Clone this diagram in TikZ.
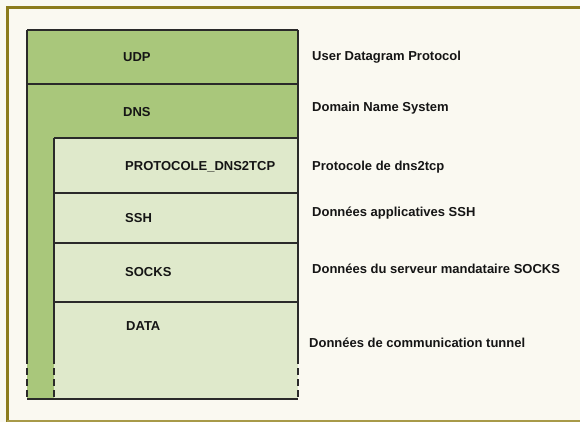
\documentclass[tikz,border=0pt]{standalone}
\usepackage{fontspec}
\setmainfont{Liberation Sans}
\definecolor{paper}{HTML}{FAF9F1}
\definecolor{olive}{HTML}{8C7C1C}
\definecolor{oliveL}{HTML}{A89A48}
\definecolor{darkgreen}{HTML}{A9C77B}
\definecolor{lightgreen}{HTML}{DFE9CB}
\definecolor{ink}{HTML}{2A2A2A}
\definecolor{txt}{HTML}{151515}
\tikzset{
  boxline/.style={draw=ink, line width=1.1pt},
  dashline/.style={draw=ink, line width=1.4pt, dash pattern=on 7pt off 4pt},
  layer/.style={anchor=west, inner sep=0pt, font=\fontsize{13}{15}\selectfont\bfseries, text=txt},
  desc/.style={anchor=west, inner sep=0pt, font=\fontsize{13}{15}\selectfont\bfseries, text=txt}
}
\begin{document}
\begin{tikzpicture}[x=1pt,y=-1pt]
\useasboundingbox (0,0) rectangle (580,422);
% paper
\fill[paper] (0,0) rectangle (580,422);
% frame
\draw[olive, line width=3pt] (7,8) -- (580,8);
\draw[olive, line width=3.5pt] (7.5,6.5) -- (7.5,422);
\draw[oliveL, line width=1.5pt] (7,421) -- (580,421);
% fills
\fill[darkgreen] (27,30) rectangle (298,399);
\fill[lightgreen] (54,138) rectangle (298,399);
% coordinates
\coordinate (oTL) at (27,30);
\coordinate (oTR) at (298,30);
\coordinate (oL1) at (27,84);
\coordinate (oR1) at (298,84);
\coordinate (oLd) at (27,357);
\coordinate (oRd) at (298,357);
\coordinate (oBL) at (27,399);
\coordinate (oBR) at (298,399);
\coordinate (iTL) at (54,138);
\coordinate (iTR) at (298,138);
\coordinate (iL2) at (54,193);
\coordinate (iR2) at (298,193);
\coordinate (iL3) at (54,243);
\coordinate (iR3) at (298,243);
\coordinate (iL4) at (54,302);
\coordinate (iR4) at (298,302);
\coordinate (iLd) at (54,357);
\coordinate (iBL) at (54,399);
% solid lines
\draw[boxline] (oTL) -- (oTR);
\draw[boxline] (oTL) -- (oLd);
\draw[boxline] (oTR) -- (oRd);
\draw[boxline] (oL1) -- (oR1);
\draw[boxline] (iTL) -- (iTR);
\draw[boxline] (iTL) -- (iLd);
\draw[boxline] (iL2) -- (iR2);
\draw[boxline] (iL3) -- (iR3);
\draw[boxline] (iL4) -- (iR4);
% dashed continuations
\draw[dashline] (oLd) -- (oBL);
\draw[dashline] (iLd) -- (iBL);
\draw[dashline] (oRd) -- (oBR);
\draw[draw=ink, line width=1.8pt] (oBL) -- (oBR);
% layer labels
\node[layer] (udp) at (123,57) {UDP};
\node[layer] (dns) at (123,112) {DNS};
\node[layer] (proto) at (125,167) {PROTOCOLE\_DNS2TCP};
\node[layer] (ssh) at (125,218) {SSH};
\node[layer] (socks) at (125,272) {SOCKS};
\node[layer] (data) at (126,326) {DATA};
% descriptions
\node[desc] (dudp) at (312,57) {User Datagram Protocol};
\node[desc] (ddns) at (312,108) {Domain Name System};
\node[desc] (dproto) at (312,167) {Protocole de dns2tcp};
\node[desc] (dssh) at (312,213) {Données applicatives SSH};
\node[desc] (dsocks) at (312,269) {Données du serveur mandataire SOCKS};
\node[desc] (ddata) at (309,343) {Données de communication tunnel};
\end{tikzpicture}
\end{document}
